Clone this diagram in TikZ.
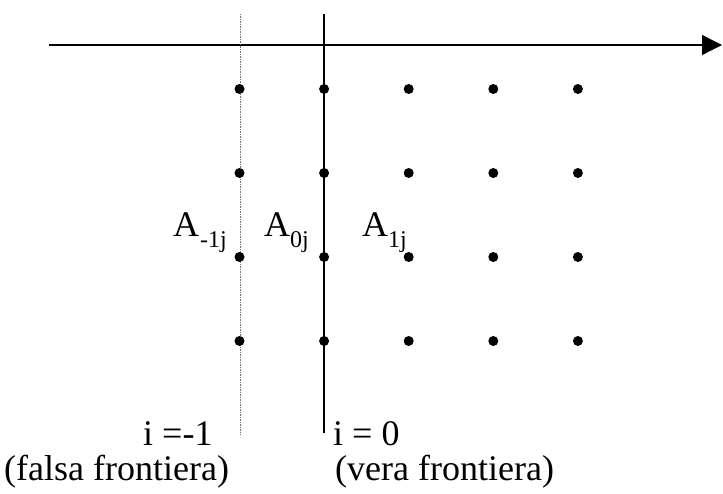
\documentclass[tikz,border=0pt]{standalone}
\usepackage{fontspec}
\setmainfont{Liberation Serif}
\usetikzlibrary{arrows.meta}

% A with a lowered index
\newcommand{\Alab}[2]{A\kern#1{\fontsize{24}{24}\selectfont\raisebox{-11pt}{#2}}}

\begin{document}
\begin{tikzpicture}[x=1pt,y=-1pt,
    lbl/.style={font=\fontsize{36}{36}\selectfont, inner sep=0pt, anchor=base west},
    alab/.style={font=\fontsize{36}{36}\selectfont, inner sep=0pt, anchor=base west}]
  \useasboundingbox (0,0) rectangle (723,494);
  \draw[line width=1.3pt, -{Triangle[length=20pt,width=20pt]}] (49,45) -- (722,45);
  \draw[black!55, line width=0.9pt, dash pattern=on 1.5pt off 1pt] (240,14) -- (240,435);
  \draw[line width=2pt] (323.5,14) -- (323.5,433);
  \foreach \c in {0,...,4}{
    \foreach \r in {0,...,3}{
      \fill (239.5+84.6*\c, 89+84*\r) circle (5pt);
    }
  }
  \node[alab] (am) at (173,237) {\Alab{1pt}{-1j}};
  \node[alab] (az) at (264,237) {\Alab{0pt}{0j}};
  \node[alab] (ap) at (362,237) {\Alab{0pt}{1j}};
  \node[lbl] (im) at (143,445) {i =-1};
  \node[lbl] (iz) at (333,445) {i = 0};
  \node[lbl] (ff) at (4,480) {(falsa frontiera)};
  \node[lbl] (vf) at (335,480) {(vera frontiera)};
\end{tikzpicture}
\end{document}
